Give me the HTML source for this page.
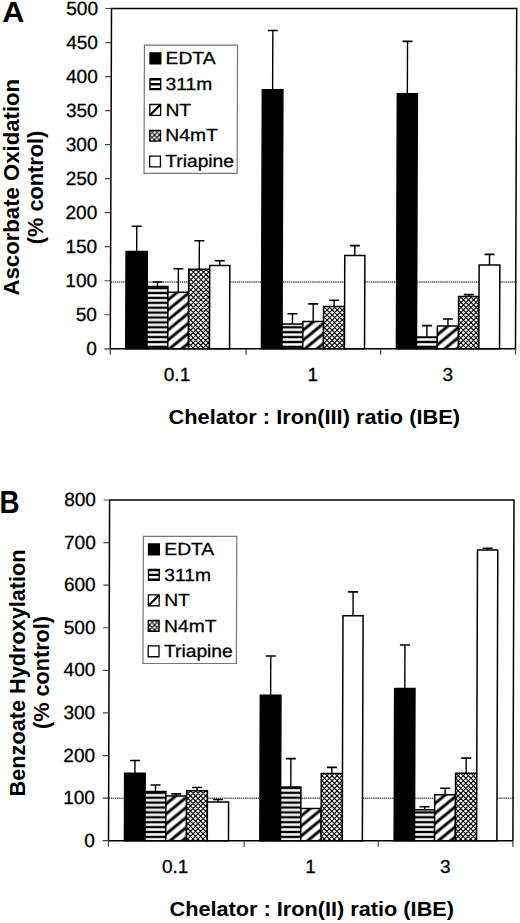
<!DOCTYPE html>
<html><head><meta charset="utf-8"><style>
html,body{margin:0;padding:0;background:#fff;width:520px;height:923px;overflow:hidden}
svg{display:block}
text{font-family:"Liberation Sans", sans-serif;fill:#000;stroke:#000;stroke-width:0.3px}
text[font-weight="bold"]{stroke:none}
</style></head><body>
<svg width="520" height="923" viewBox="0 0 520 923">
<defs>
<pattern id="hs" patternUnits="userSpaceOnUse" width="6" height="4.9"><rect width="6" height="4.9" fill="#000"/><rect y="0.2" width="6" height="2.5" fill="#fff"/></pattern>

<pattern id="xh" patternUnits="userSpaceOnUse" width="5" height="5"><rect width="5" height="5" fill="#fff"/><path d="M-1,-1 L6,6 M6,-1 L-1,6 M-1,1 L1,-1 M4,6 L6,4 M4,-1 L6,1 M-1,4 L1,6" stroke="#000" stroke-width="1.15"/></pattern>
</defs>
<g transform="translate(0,8.5) skewX(-0.2020) translate(0,-8.5)">
<line x1="111.5" y1="282" x2="516.7" y2="282" stroke="#555" stroke-width="1.6" stroke-dasharray="1.4 0.7"/>
<pattern id="dgA0" patternUnits="userSpaceOnUse" width="7.75" height="7.75" patternTransform="translate(168.98,330.1) rotate(-39.5)"><rect width="7.75" height="7.75" fill="#fff"/><rect width="7.75" height="1.45" fill="#000"/><rect y="6.30" width="7.75" height="1.45" fill="#000"/></pattern>
<pattern id="dgA1" patternUnits="userSpaceOnUse" width="7.75" height="7.75" patternTransform="translate(305.13,329.5) rotate(-39.5)"><rect width="7.75" height="7.75" fill="#fff"/><rect width="7.75" height="1.45" fill="#000"/><rect y="6.30" width="7.75" height="1.45" fill="#000"/></pattern>
<pattern id="dgA2" patternUnits="userSpaceOnUse" width="7.75" height="7.75" patternTransform="translate(439.15,334.25) rotate(-39.5)"><rect width="7.75" height="7.75" fill="#fff"/><rect width="7.75" height="1.45" fill="#000"/><rect y="6.30" width="7.75" height="1.45" fill="#000"/></pattern>
<line x1="137.55" y1="251.45" x2="137.55" y2="226.25" stroke="#000" stroke-width="1.4"/>
<line x1="132.55" y1="226.25" x2="142.55" y2="226.25" stroke="#000" stroke-width="1.6"/>
<rect x="126.95" y="251.45" width="21.20" height="97.35" fill="#000" stroke="#000" stroke-width="1.5"/>
<line x1="158.55" y1="286.45" x2="158.55" y2="282.00" stroke="#000" stroke-width="1.4"/>
<line x1="153.55" y1="282.00" x2="163.55" y2="282.00" stroke="#000" stroke-width="1.6"/>
<rect x="148.15" y="286.45" width="20.80" height="62.35" fill="url(#hs)" stroke="#000" stroke-width="1.5"/>
<line x1="179.30" y1="292.20" x2="179.30" y2="268.75" stroke="#000" stroke-width="1.4"/>
<line x1="174.30" y1="268.75" x2="184.30" y2="268.75" stroke="#000" stroke-width="1.6"/>
<rect x="168.95" y="292.20" width="20.70" height="56.60" fill="url(#dgA0)" stroke="#000" stroke-width="1.5"/>
<line x1="200.15" y1="269.30" x2="200.15" y2="240.75" stroke="#000" stroke-width="1.4"/>
<line x1="195.15" y1="240.75" x2="205.15" y2="240.75" stroke="#000" stroke-width="1.6"/>
<clipPath id="cA0"><rect x="189.65" y="269.30" width="21.00" height="79.50"/></clipPath>
<rect x="189.65" y="269.30" width="21.00" height="79.50" fill="#fff"/>
<path clip-path="url(#cA0)" d="M187.65,356.31L212.65,381.31M187.65,351.26L212.65,376.26M187.65,346.21L212.65,371.21M187.65,341.16L212.65,366.16M187.65,336.11L212.65,361.11M187.65,331.06L212.65,356.06M187.65,326.01L212.65,351.01M187.65,320.96L212.65,345.96M187.65,315.91L212.65,340.91M187.65,310.86L212.65,335.86M187.65,305.81L212.65,330.81M187.65,300.76L212.65,325.76M187.65,295.71L212.65,320.71M187.65,290.66L212.65,315.66M187.65,285.61L212.65,310.61M187.65,280.56L212.65,305.56M187.65,275.51L212.65,300.51M187.65,270.46L212.65,295.46M187.65,265.41L212.65,290.41M187.65,260.36L212.65,285.36M187.65,255.31L212.65,280.31M187.65,250.26L212.65,275.26M187.65,245.21L212.65,270.21M187.65,263.64L212.65,238.64M187.65,268.69L212.65,243.69M187.65,273.74L212.65,248.74M187.65,278.79L212.65,253.79M187.65,283.84L212.65,258.84M187.65,288.89L212.65,263.89M187.65,293.94L212.65,268.94M187.65,298.99L212.65,273.99M187.65,304.04L212.65,279.04M187.65,309.09L212.65,284.09M187.65,314.14L212.65,289.14M187.65,319.19L212.65,294.19M187.65,324.24L212.65,299.24M187.65,329.29L212.65,304.29M187.65,334.34L212.65,309.34M187.65,339.39L212.65,314.39M187.65,344.44L212.65,319.44M187.65,349.49L212.65,324.49M187.65,354.54L212.65,329.54M187.65,359.59L212.65,334.59M187.65,364.64L212.65,339.64M187.65,369.69L212.65,344.69M187.65,374.74L212.65,349.74" stroke="#000" stroke-width="1.1" fill="none"/>
<rect x="189.65" y="269.30" width="21.00" height="79.50" fill="none" stroke="#000" stroke-width="1.5"/>
<line x1="220.70" y1="265.50" x2="220.70" y2="260.75" stroke="#000" stroke-width="1.4"/>
<line x1="215.70" y1="260.75" x2="225.70" y2="260.75" stroke="#000" stroke-width="1.6"/>
<rect x="210.65" y="265.50" width="20.10" height="83.30" fill="#fff" stroke="#000" stroke-width="1.5"/>
<line x1="272.90" y1="89.70" x2="272.90" y2="30.50" stroke="#000" stroke-width="1.4"/>
<line x1="267.90" y1="30.50" x2="277.90" y2="30.50" stroke="#000" stroke-width="1.6"/>
<rect x="262.65" y="89.70" width="20.50" height="259.10" fill="#000" stroke="#000" stroke-width="1.5"/>
<line x1="293.55" y1="324.10" x2="293.55" y2="313.80" stroke="#000" stroke-width="1.4"/>
<line x1="288.55" y1="313.80" x2="298.55" y2="313.80" stroke="#000" stroke-width="1.6"/>
<rect x="283.15" y="324.10" width="20.80" height="24.70" fill="url(#hs)" stroke="#000" stroke-width="1.5"/>
<line x1="314.30" y1="321.50" x2="314.30" y2="303.90" stroke="#000" stroke-width="1.4"/>
<line x1="309.30" y1="303.90" x2="319.30" y2="303.90" stroke="#000" stroke-width="1.6"/>
<rect x="303.95" y="321.50" width="20.70" height="27.30" fill="url(#dgA1)" stroke="#000" stroke-width="1.5"/>
<line x1="335.15" y1="306.40" x2="335.15" y2="300.20" stroke="#000" stroke-width="1.4"/>
<line x1="330.15" y1="300.20" x2="340.15" y2="300.20" stroke="#000" stroke-width="1.6"/>
<clipPath id="cA1"><rect x="324.65" y="306.40" width="21.00" height="42.40"/></clipPath>
<rect x="324.65" y="306.40" width="21.00" height="42.40" fill="#fff"/>
<path clip-path="url(#cA1)" d="M322.65,354.96L347.65,379.96M322.65,349.91L347.65,374.91M322.65,344.86L347.65,369.86M322.65,339.81L347.65,364.81M322.65,334.76L347.65,359.76M322.65,329.71L347.65,354.71M322.65,324.66L347.65,349.66M322.65,319.61L347.65,344.61M322.65,314.56L347.65,339.56M322.65,309.51L347.65,334.51M322.65,304.46L347.65,329.46M322.65,299.41L347.65,324.41M322.65,294.36L347.65,319.36M322.65,289.31L347.65,314.31M322.65,284.26L347.65,309.26M322.65,279.21L347.65,304.21M322.65,300.34L347.65,275.34M322.65,305.39L347.65,280.39M322.65,310.44L347.65,285.44M322.65,315.49L347.65,290.49M322.65,320.54L347.65,295.54M322.65,325.59L347.65,300.59M322.65,330.64L347.65,305.64M322.65,335.69L347.65,310.69M322.65,340.74L347.65,315.74M322.65,345.79L347.65,320.79M322.65,350.84L347.65,325.84M322.65,355.89L347.65,330.89M322.65,360.94L347.65,335.94M322.65,365.99L347.65,340.99M322.65,371.04L347.65,346.04M322.65,376.09L347.65,351.09" stroke="#000" stroke-width="1.1" fill="none"/>
<rect x="324.65" y="306.40" width="21.00" height="42.40" fill="none" stroke="#000" stroke-width="1.5"/>
<line x1="355.70" y1="255.50" x2="355.70" y2="245.60" stroke="#000" stroke-width="1.4"/>
<line x1="350.70" y1="245.60" x2="360.70" y2="245.60" stroke="#000" stroke-width="1.6"/>
<rect x="345.65" y="255.50" width="20.10" height="93.30" fill="#fff" stroke="#000" stroke-width="1.5"/>
<line x1="407.65" y1="93.70" x2="407.65" y2="41.40" stroke="#000" stroke-width="1.4"/>
<line x1="402.65" y1="41.40" x2="412.65" y2="41.40" stroke="#000" stroke-width="1.6"/>
<rect x="397.65" y="93.70" width="20.00" height="255.10" fill="#000" stroke="#000" stroke-width="1.5"/>
<line x1="428.05" y1="336.90" x2="428.05" y2="325.60" stroke="#000" stroke-width="1.4"/>
<line x1="423.05" y1="325.60" x2="433.05" y2="325.60" stroke="#000" stroke-width="1.6"/>
<rect x="417.65" y="336.90" width="20.80" height="11.90" fill="url(#hs)" stroke="#000" stroke-width="1.5"/>
<line x1="449.05" y1="325.90" x2="449.05" y2="319.00" stroke="#000" stroke-width="1.4"/>
<line x1="444.05" y1="319.00" x2="454.05" y2="319.00" stroke="#000" stroke-width="1.6"/>
<rect x="438.45" y="325.90" width="21.20" height="22.90" fill="url(#dgA2)" stroke="#000" stroke-width="1.5"/>
<line x1="469.85" y1="296.40" x2="469.85" y2="294.60" stroke="#000" stroke-width="1.4"/>
<line x1="464.85" y1="294.60" x2="474.85" y2="294.60" stroke="#000" stroke-width="1.6"/>
<clipPath id="cA2"><rect x="459.65" y="296.40" width="20.40" height="52.40"/></clipPath>
<rect x="459.65" y="296.40" width="20.40" height="52.40" fill="#fff"/>
<path clip-path="url(#cA2)" d="M457.65,353.61L482.05,378.01M457.65,348.56L482.05,372.96M457.65,343.51L482.05,367.91M457.65,338.46L482.05,362.86M457.65,333.41L482.05,357.81M457.65,328.36L482.05,352.76M457.65,323.31L482.05,347.71M457.65,318.26L482.05,342.66M457.65,313.21L482.05,337.61M457.65,308.16L482.05,332.56M457.65,303.11L482.05,327.51M457.65,298.06L482.05,322.46M457.65,293.01L482.05,317.41M457.65,287.96L482.05,312.36M457.65,282.91L482.05,307.31M457.65,277.86L482.05,302.26M457.65,272.81L482.05,297.21M457.65,291.59L482.05,267.19M457.65,296.64L482.05,272.24M457.65,301.69L482.05,277.29M457.65,306.74L482.05,282.34M457.65,311.79L482.05,287.39M457.65,316.84L482.05,292.44M457.65,321.89L482.05,297.49M457.65,326.94L482.05,302.54M457.65,331.99L482.05,307.59M457.65,337.04L482.05,312.64M457.65,342.09L482.05,317.69M457.65,347.14L482.05,322.74M457.65,352.19L482.05,327.79M457.65,357.24L482.05,332.84M457.65,362.29L482.05,337.89M457.65,367.34L482.05,342.94M457.65,372.39L482.05,347.99" stroke="#000" stroke-width="1.1" fill="none"/>
<rect x="459.65" y="296.40" width="20.40" height="52.40" fill="none" stroke="#000" stroke-width="1.5"/>
<line x1="490.40" y1="265.10" x2="490.40" y2="254.40" stroke="#000" stroke-width="1.4"/>
<line x1="485.40" y1="254.40" x2="495.40" y2="254.40" stroke="#000" stroke-width="1.6"/>
<rect x="480.05" y="265.10" width="20.70" height="83.70" fill="#fff" stroke="#000" stroke-width="1.5"/>
<rect x="111.5" y="8.5" width="405.20" height="340.30" fill="none" stroke="#000" stroke-width="1.5"/>
<line x1="105.5" y1="348.80" x2="111.5" y2="348.80" stroke="#444" stroke-width="1.2"/>
<text x="98.0" y="355.20" text-anchor="end" font-size="19">0</text>
<line x1="105.5" y1="314.77" x2="111.5" y2="314.77" stroke="#444" stroke-width="1.2"/>
<text x="98.0" y="321.17" text-anchor="end" font-size="19">50</text>
<line x1="105.5" y1="280.74" x2="111.5" y2="280.74" stroke="#444" stroke-width="1.2"/>
<text x="98.0" y="287.14" text-anchor="end" font-size="19">100</text>
<line x1="105.5" y1="246.71" x2="111.5" y2="246.71" stroke="#444" stroke-width="1.2"/>
<text x="98.0" y="253.11" text-anchor="end" font-size="19">150</text>
<line x1="105.5" y1="212.68" x2="111.5" y2="212.68" stroke="#444" stroke-width="1.2"/>
<text x="98.0" y="219.08" text-anchor="end" font-size="19">200</text>
<line x1="105.5" y1="178.65" x2="111.5" y2="178.65" stroke="#444" stroke-width="1.2"/>
<text x="98.0" y="185.05" text-anchor="end" font-size="19">250</text>
<line x1="105.5" y1="144.62" x2="111.5" y2="144.62" stroke="#444" stroke-width="1.2"/>
<text x="98.0" y="151.02" text-anchor="end" font-size="19">300</text>
<line x1="105.5" y1="110.59" x2="111.5" y2="110.59" stroke="#444" stroke-width="1.2"/>
<text x="98.0" y="116.99" text-anchor="end" font-size="19">350</text>
<line x1="105.5" y1="76.56" x2="111.5" y2="76.56" stroke="#444" stroke-width="1.2"/>
<text x="98.0" y="82.96" text-anchor="end" font-size="19">400</text>
<line x1="105.5" y1="42.53" x2="111.5" y2="42.53" stroke="#444" stroke-width="1.2"/>
<text x="98.0" y="48.93" text-anchor="end" font-size="19">450</text>
<line x1="105.5" y1="8.50" x2="111.5" y2="8.50" stroke="#444" stroke-width="1.2"/>
<text x="98.0" y="14.90" text-anchor="end" font-size="19">500</text>
<line x1="111.50" y1="348.8" x2="111.50" y2="354.8" stroke="#444" stroke-width="1.2"/>
<line x1="247.30" y1="348.8" x2="247.30" y2="354.8" stroke="#444" stroke-width="1.2"/>
<line x1="381.90" y1="348.8" x2="381.90" y2="354.8" stroke="#444" stroke-width="1.2"/>
<line x1="516.70" y1="348.8" x2="516.70" y2="354.8" stroke="#444" stroke-width="1.2"/>
<rect x="144.6" y="45.2" width="93.1" height="128.2" fill="#fff" stroke="#777" stroke-width="1.2"/>
<rect x="150.2" y="52.95" width="10.8" height="10.8" fill="#000" stroke="#000" stroke-width="1.3"/>
<text transform="translate(165.8,64.05) scale(1.1,1)" font-size="17.5">EDTA</text>
<rect x="149.55" y="78.08" width="12.1" height="12.1" fill="#000"/>
<rect x="150.95" y="80.58" width="9.3" height="2.5" fill="#fff"/>
<rect x="150.95" y="85.38" width="9.3" height="2.5" fill="#fff"/>
<text transform="translate(165.8,89.83) scale(1.1,1)" font-size="17.5">311m</text>
<rect x="150.2" y="104.51" width="10.8" height="10.8" fill="#fff" stroke="#000" stroke-width="1.3"/>
<line x1="150.20" y1="115.31" x2="161.00" y2="104.51" stroke="#000" stroke-width="2.2"/>
<text transform="translate(165.8,115.61) scale(1.1,1)" font-size="17.5">NT</text>
<rect x="150.2" y="130.29" width="10.8" height="10.8" fill="url(#xh)" stroke="#000" stroke-width="1.3"/>
<text transform="translate(165.8,141.39) scale(1.1,1)" font-size="17.5">N4mT</text>
<rect x="150.2" y="156.07" width="10.8" height="10.8" fill="#fff" stroke="#000" stroke-width="1.3"/>
<text transform="translate(165.8,167.17) scale(1.1,1)" font-size="17.5">Triapine</text>
</g>
<text x="177.00" y="381" text-anchor="middle" font-size="19">0.1</text>
<text x="312.80" y="381" text-anchor="middle" font-size="19">1</text>
<text x="447.70" y="381" text-anchor="middle" font-size="19">3</text>
<text x="168.5" y="423.8" font-size="20.3" font-weight="bold" textLength="291.5" lengthAdjust="spacingAndGlyphs">Chelator : Iron(III) ratio (IBE)</text>
<text transform="translate(18.8,187.2) rotate(-90)" text-anchor="middle" font-size="22.5" font-weight="bold" textLength="216.6" lengthAdjust="spacingAndGlyphs">Ascorbate Oxidation</text>
<text transform="translate(42.6,187.4) rotate(-90)" text-anchor="middle" font-size="22.5" font-weight="bold" textLength="113.5" lengthAdjust="spacingAndGlyphs">(% control)</text>
<text transform="translate(2.2,22.4) scale(1.04,1)" font-size="29.5" font-weight="bold">A</text>
<g transform="translate(0,500) skewX(-0.1850) translate(0,-500)">
<line x1="109.6" y1="798.2" x2="514.0" y2="798.2" stroke="#555" stroke-width="1.6" stroke-dasharray="1.4 0.7"/>
<pattern id="dgB0" patternUnits="userSpaceOnUse" width="7.75" height="7.75" patternTransform="translate(167.35,823.8) rotate(-39.5)"><rect width="7.75" height="7.75" fill="#fff"/><rect width="7.75" height="1.45" fill="#000"/><rect y="6.30" width="7.75" height="1.45" fill="#000"/></pattern>
<pattern id="dgB1" patternUnits="userSpaceOnUse" width="7.75" height="7.75" patternTransform="translate(302.80,825.5) rotate(-39.5)"><rect width="7.75" height="7.75" fill="#fff"/><rect width="7.75" height="1.45" fill="#000"/><rect y="6.30" width="7.75" height="1.45" fill="#000"/></pattern>
<pattern id="dgB2" patternUnits="userSpaceOnUse" width="7.75" height="7.75" patternTransform="translate(436.54,823) rotate(-39.5)"><rect width="7.75" height="7.75" fill="#fff"/><rect width="7.75" height="1.45" fill="#000"/><rect y="6.30" width="7.75" height="1.45" fill="#000"/></pattern>
<line x1="135.81" y1="773.20" x2="135.81" y2="760.50" stroke="#000" stroke-width="1.4"/>
<line x1="130.81" y1="760.50" x2="140.81" y2="760.50" stroke="#000" stroke-width="1.6"/>
<rect x="125.56" y="773.20" width="20.50" height="67.50" fill="#000" stroke="#000" stroke-width="1.5"/>
<line x1="156.46" y1="791.45" x2="156.46" y2="785.00" stroke="#000" stroke-width="1.4"/>
<line x1="151.46" y1="785.00" x2="161.46" y2="785.00" stroke="#000" stroke-width="1.6"/>
<rect x="146.06" y="791.45" width="20.80" height="49.25" fill="url(#hs)" stroke="#000" stroke-width="1.5"/>
<line x1="177.21" y1="796.10" x2="177.21" y2="793.90" stroke="#000" stroke-width="1.4"/>
<line x1="172.21" y1="793.90" x2="182.21" y2="793.90" stroke="#000" stroke-width="1.6"/>
<rect x="166.86" y="796.10" width="20.70" height="44.60" fill="url(#dgB0)" stroke="#000" stroke-width="1.5"/>
<line x1="197.96" y1="790.70" x2="197.96" y2="787.50" stroke="#000" stroke-width="1.4"/>
<line x1="192.96" y1="787.50" x2="202.96" y2="787.50" stroke="#000" stroke-width="1.6"/>
<clipPath id="cB0"><rect x="187.56" y="790.70" width="20.80" height="50.00"/></clipPath>
<rect x="187.56" y="790.70" width="20.80" height="50.00" fill="#fff"/>
<path clip-path="url(#cB0)" d="M185.56,845.53L210.36,870.33M185.56,840.48L210.36,865.28M185.56,835.43L210.36,860.23M185.56,830.38L210.36,855.18M185.56,825.33L210.36,850.13M185.56,820.28L210.36,845.08M185.56,815.23L210.36,840.03M185.56,810.18L210.36,834.98M185.56,805.13L210.36,829.93M185.56,800.08L210.36,824.88M185.56,795.03L210.36,819.83M185.56,789.98L210.36,814.78M185.56,784.93L210.36,809.73M185.56,779.88L210.36,804.68M185.56,774.83L210.36,799.63M185.56,769.78L210.36,794.58M185.56,764.73L210.36,789.53M185.56,786.72L210.36,761.92M185.56,791.77L210.36,766.97M185.56,796.82L210.36,772.02M185.56,801.87L210.36,777.07M185.56,806.92L210.36,782.12M185.56,811.97L210.36,787.17M185.56,817.02L210.36,792.22M185.56,822.07L210.36,797.27M185.56,827.12L210.36,802.32M185.56,832.17L210.36,807.37M185.56,837.22L210.36,812.42M185.56,842.27L210.36,817.47M185.56,847.32L210.36,822.52M185.56,852.37L210.36,827.57M185.56,857.42L210.36,832.62M185.56,862.47L210.36,837.67M185.56,867.52L210.36,842.72" stroke="#000" stroke-width="1.1" fill="none"/>
<rect x="187.56" y="790.70" width="20.80" height="50.00" fill="none" stroke="#000" stroke-width="1.5"/>
<line x1="218.96" y1="801.95" x2="218.96" y2="799.50" stroke="#000" stroke-width="1.4"/>
<line x1="213.96" y1="799.50" x2="223.96" y2="799.50" stroke="#000" stroke-width="1.6"/>
<rect x="208.36" y="801.95" width="21.20" height="38.75" fill="#fff" stroke="#000" stroke-width="1.5"/>
<line x1="271.26" y1="695.20" x2="271.26" y2="656.00" stroke="#000" stroke-width="1.4"/>
<line x1="266.26" y1="656.00" x2="276.26" y2="656.00" stroke="#000" stroke-width="1.6"/>
<rect x="260.96" y="695.20" width="20.60" height="145.50" fill="#000" stroke="#000" stroke-width="1.5"/>
<line x1="291.71" y1="786.90" x2="291.71" y2="758.60" stroke="#000" stroke-width="1.4"/>
<line x1="286.71" y1="758.60" x2="296.71" y2="758.60" stroke="#000" stroke-width="1.6"/>
<rect x="281.56" y="786.90" width="20.30" height="53.80" fill="url(#hs)" stroke="#000" stroke-width="1.5"/>
<rect x="301.86" y="808.50" width="20.30" height="32.20" fill="url(#dgB1)" stroke="#000" stroke-width="1.5"/>
<line x1="332.76" y1="773.50" x2="332.76" y2="767.40" stroke="#000" stroke-width="1.4"/>
<line x1="327.76" y1="767.40" x2="337.76" y2="767.40" stroke="#000" stroke-width="1.6"/>
<clipPath id="cB1"><rect x="322.16" y="773.50" width="21.20" height="67.20"/></clipPath>
<rect x="322.16" y="773.50" width="21.20" height="67.20" fill="#fff"/>
<path clip-path="url(#cB1)" d="M320.16,843.78L345.36,868.98M320.16,838.73L345.36,863.93M320.16,833.68L345.36,858.88M320.16,828.63L345.36,853.83M320.16,823.58L345.36,848.78M320.16,818.53L345.36,843.73M320.16,813.48L345.36,838.68M320.16,808.43L345.36,833.63M320.16,803.38L345.36,828.58M320.16,798.33L345.36,823.53M320.16,793.28L345.36,818.48M320.16,788.23L345.36,813.43M320.16,783.18L345.36,808.38M320.16,778.13L345.36,803.33M320.16,773.08L345.36,798.28M320.16,768.03L345.36,793.23M320.16,762.98L345.36,788.18M320.16,757.93L345.36,783.13M320.16,752.88L345.36,778.08M320.16,747.83L345.36,773.03M320.16,768.27L345.36,743.07M320.16,773.32L345.36,748.12M320.16,778.37L345.36,753.17M320.16,783.42L345.36,758.22M320.16,788.47L345.36,763.27M320.16,793.52L345.36,768.32M320.16,798.57L345.36,773.37M320.16,803.62L345.36,778.42M320.16,808.67L345.36,783.47M320.16,813.72L345.36,788.52M320.16,818.77L345.36,793.57M320.16,823.82L345.36,798.62M320.16,828.87L345.36,803.67M320.16,833.92L345.36,808.72M320.16,838.97L345.36,813.77M320.16,844.02L345.36,818.82M320.16,849.07L345.36,823.87M320.16,854.12L345.36,828.92M320.16,859.17L345.36,833.97M320.16,864.22L345.36,839.02" stroke="#000" stroke-width="1.1" fill="none"/>
<rect x="322.16" y="773.50" width="21.20" height="67.20" fill="none" stroke="#000" stroke-width="1.5"/>
<line x1="353.41" y1="615.70" x2="353.41" y2="591.90" stroke="#000" stroke-width="1.4"/>
<line x1="348.41" y1="591.90" x2="358.41" y2="591.90" stroke="#000" stroke-width="1.6"/>
<rect x="343.36" y="615.70" width="20.10" height="225.00" fill="#fff" stroke="#000" stroke-width="1.5"/>
<line x1="405.41" y1="688.40" x2="405.41" y2="645.00" stroke="#000" stroke-width="1.4"/>
<line x1="400.41" y1="645.00" x2="410.41" y2="645.00" stroke="#000" stroke-width="1.6"/>
<rect x="395.26" y="688.40" width="20.30" height="152.30" fill="#000" stroke="#000" stroke-width="1.5"/>
<line x1="425.61" y1="809.80" x2="425.61" y2="806.80" stroke="#000" stroke-width="1.4"/>
<line x1="420.61" y1="806.80" x2="430.61" y2="806.80" stroke="#000" stroke-width="1.6"/>
<rect x="415.56" y="809.80" width="20.10" height="30.90" fill="url(#hs)" stroke="#000" stroke-width="1.5"/>
<line x1="446.06" y1="794.70" x2="446.06" y2="788.30" stroke="#000" stroke-width="1.4"/>
<line x1="441.06" y1="788.30" x2="451.06" y2="788.30" stroke="#000" stroke-width="1.6"/>
<rect x="435.66" y="794.70" width="20.80" height="46.00" fill="url(#dgB2)" stroke="#000" stroke-width="1.5"/>
<line x1="467.06" y1="773.30" x2="467.06" y2="758.10" stroke="#000" stroke-width="1.4"/>
<line x1="462.06" y1="758.10" x2="472.06" y2="758.10" stroke="#000" stroke-width="1.6"/>
<clipPath id="cB2"><rect x="456.46" y="773.30" width="21.20" height="67.40"/></clipPath>
<rect x="456.46" y="773.30" width="21.20" height="67.40" fill="#fff"/>
<path clip-path="url(#cB2)" d="M454.46,846.78L479.66,871.98M454.46,841.73L479.66,866.93M454.46,836.68L479.66,861.88M454.46,831.63L479.66,856.83M454.46,826.58L479.66,851.78M454.46,821.53L479.66,846.73M454.46,816.48L479.66,841.68M454.46,811.43L479.66,836.63M454.46,806.38L479.66,831.58M454.46,801.33L479.66,826.53M454.46,796.28L479.66,821.48M454.46,791.23L479.66,816.43M454.46,786.18L479.66,811.38M454.46,781.13L479.66,806.33M454.46,776.08L479.66,801.28M454.46,771.03L479.66,796.23M454.46,765.98L479.66,791.18M454.46,760.93L479.66,786.13M454.46,755.88L479.66,781.08M454.46,750.83L479.66,776.03M454.46,745.78L479.66,770.98M454.46,765.27L479.66,740.07M454.46,770.32L479.66,745.12M454.46,775.37L479.66,750.17M454.46,780.42L479.66,755.22M454.46,785.47L479.66,760.27M454.46,790.52L479.66,765.32M454.46,795.57L479.66,770.37M454.46,800.62L479.66,775.42M454.46,805.67L479.66,780.47M454.46,810.72L479.66,785.52M454.46,815.77L479.66,790.57M454.46,820.82L479.66,795.62M454.46,825.87L479.66,800.67M454.46,830.92L479.66,805.72M454.46,835.97L479.66,810.77M454.46,841.02L479.66,815.82M454.46,846.07L479.66,820.87M454.46,851.12L479.66,825.92M454.46,856.17L479.66,830.97M454.46,861.22L479.66,836.02M454.46,866.27L479.66,841.07" stroke="#000" stroke-width="1.1" fill="none"/>
<rect x="456.46" y="773.30" width="21.20" height="67.40" fill="none" stroke="#000" stroke-width="1.5"/>
<line x1="487.81" y1="550.10" x2="487.81" y2="548.30" stroke="#000" stroke-width="1.4"/>
<line x1="482.81" y1="548.30" x2="492.81" y2="548.30" stroke="#000" stroke-width="1.6"/>
<rect x="477.66" y="550.10" width="20.30" height="290.60" fill="#fff" stroke="#000" stroke-width="1.5"/>
<rect x="109.6" y="500" width="404.40" height="340.70" fill="none" stroke="#000" stroke-width="1.5"/>
<line x1="103.6" y1="840.70" x2="109.6" y2="840.70" stroke="#444" stroke-width="1.2"/>
<text x="95.9" y="846.70" text-anchor="end" font-size="19">0</text>
<line x1="103.6" y1="798.11" x2="109.6" y2="798.11" stroke="#444" stroke-width="1.2"/>
<text x="95.9" y="804.11" text-anchor="end" font-size="19">100</text>
<line x1="103.6" y1="755.53" x2="109.6" y2="755.53" stroke="#444" stroke-width="1.2"/>
<text x="95.9" y="761.53" text-anchor="end" font-size="19">200</text>
<line x1="103.6" y1="712.94" x2="109.6" y2="712.94" stroke="#444" stroke-width="1.2"/>
<text x="95.9" y="718.94" text-anchor="end" font-size="19">300</text>
<line x1="103.6" y1="670.35" x2="109.6" y2="670.35" stroke="#444" stroke-width="1.2"/>
<text x="95.9" y="676.35" text-anchor="end" font-size="19">400</text>
<line x1="103.6" y1="627.76" x2="109.6" y2="627.76" stroke="#444" stroke-width="1.2"/>
<text x="95.9" y="633.76" text-anchor="end" font-size="19">500</text>
<line x1="103.6" y1="585.17" x2="109.6" y2="585.17" stroke="#444" stroke-width="1.2"/>
<text x="95.9" y="591.17" text-anchor="end" font-size="19">600</text>
<line x1="103.6" y1="542.59" x2="109.6" y2="542.59" stroke="#444" stroke-width="1.2"/>
<text x="95.9" y="548.59" text-anchor="end" font-size="19">700</text>
<line x1="103.6" y1="500.00" x2="109.6" y2="500.00" stroke="#444" stroke-width="1.2"/>
<text x="95.9" y="506.00" text-anchor="end" font-size="19">800</text>
<line x1="109.60" y1="840.7" x2="109.60" y2="846.7" stroke="#444" stroke-width="1.2"/>
<line x1="245.20" y1="840.7" x2="245.20" y2="846.7" stroke="#444" stroke-width="1.2"/>
<line x1="379.40" y1="840.7" x2="379.40" y2="846.7" stroke="#444" stroke-width="1.2"/>
<line x1="514.00" y1="840.7" x2="514.00" y2="846.7" stroke="#444" stroke-width="1.2"/>
<rect x="143.5" y="536.3" width="93.4" height="127.2" fill="#fff" stroke="#777" stroke-width="1.2"/>
<rect x="148.7" y="543.95" width="10.8" height="10.8" fill="#000" stroke="#000" stroke-width="1.3"/>
<text transform="translate(164.5,555.25) scale(1.1,1)" font-size="17.5">EDTA</text>
<rect x="148.05" y="568.80" width="12.1" height="12.1" fill="#000"/>
<rect x="149.45" y="571.30" width="9.3" height="2.5" fill="#fff"/>
<rect x="149.45" y="576.10" width="9.3" height="2.5" fill="#fff"/>
<text transform="translate(164.5,580.75) scale(1.1,1)" font-size="17.5">311m</text>
<rect x="148.7" y="594.95" width="10.8" height="10.8" fill="#fff" stroke="#000" stroke-width="1.3"/>
<line x1="148.70" y1="605.75" x2="159.50" y2="594.95" stroke="#000" stroke-width="2.2"/>
<text transform="translate(164.5,606.25) scale(1.1,1)" font-size="17.5">NT</text>
<rect x="148.7" y="620.45" width="10.8" height="10.8" fill="url(#xh)" stroke="#000" stroke-width="1.3"/>
<text transform="translate(164.5,631.75) scale(1.1,1)" font-size="17.5">N4mT</text>
<rect x="148.7" y="645.95" width="10.8" height="10.8" fill="#fff" stroke="#000" stroke-width="1.3"/>
<text transform="translate(164.5,657.25) scale(1.1,1)" font-size="17.5">Triapine</text>
</g>
<text x="175.20" y="873" text-anchor="middle" font-size="19">0.1</text>
<text x="310.60" y="873" text-anchor="middle" font-size="19">1</text>
<text x="445.40" y="873" text-anchor="middle" font-size="19">3</text>
<text x="169.5" y="916.4" font-size="20.3" font-weight="bold" textLength="284.5" lengthAdjust="spacingAndGlyphs">Chelator : Iron(II) ratio (IBE)</text>
<text transform="translate(24.9,672.9) rotate(-90)" text-anchor="middle" font-size="22.5" font-weight="bold" textLength="247" lengthAdjust="spacingAndGlyphs">Benzoate Hydroxylation</text>
<text transform="translate(49.2,672.5) rotate(-90)" text-anchor="middle" font-size="22.5" font-weight="bold" textLength="113" lengthAdjust="spacingAndGlyphs">(% control)</text>
<text transform="translate(-0.5,513.4) scale(0.91,1)" font-size="30.6" font-weight="bold">B</text>
</svg>
</body></html>
